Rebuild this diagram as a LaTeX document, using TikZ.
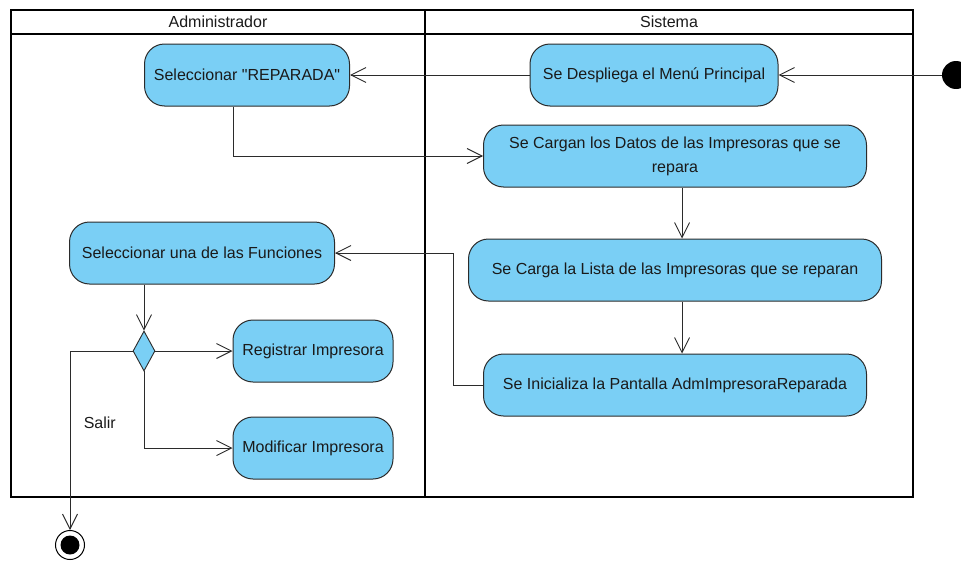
\documentclass[tikz,border=0pt]{standalone}
\usepackage{fontspec}
\setmainfont{Liberation Sans}
\usetikzlibrary{
  arrows.meta,
  shapes.geometric,
  positioning,
  calc
}
\definecolor{acFill}{HTML}{7ACFF5}
\definecolor{acLine}{HTML}{2B2B2B}
\definecolor{acText}{HTML}{1A1A1A}
\tikzset{
  acnode/.style={
    draw=acLine, fill=acFill, rounded corners=20pt, minimum height=62pt,
    font=\fontsize{16}{24}\selectfont, text=acText, align=center,
    line width=1pt, inner sep=2pt
  },
  decision/.style={draw=acLine, fill=acFill, diamond, minimum width=22pt,
    minimum height=40pt, inner sep=0pt, line width=0.9pt},
  startnode/.style={circle, fill=black, minimum size=28pt, inner sep=0pt},
  endnode/.style={circle, draw=black, fill=white, line width=1pt,
    minimum size=29pt, inner sep=0pt,
    path picture={\fill[black] (path picture bounding box.center) circle (9.5pt);}},
  lane/.style={draw=black, line width=2pt},
  lanehead/.style={font=\fontsize{16}{18}\selectfont, text=acText},
  flow/.style={-{Straight Barb[length=15pt, width=15pt]}, line width=0.9pt, acLine},
  tag/.style={font=\fontsize{16}{18}\selectfont, text=acText}
}
\begin{document}
\begin{tikzpicture}[x=1pt, y=-1pt]
  \useasboundingbox (0,0) rectangle (961,562);
  % swimlanes
  \draw[lane] (11,10) rectangle (913,497);
  \draw[lane] (11,34) -- (913,34);
  \draw[lane] (425,10) -- (425,497);
  \node[lanehead] (hadm) at (218,22) {Administrador};
  \node[lanehead] (hsis) at (669,22) {Sistema};

  % Sistema
  \node[startnode] (ini) at (956,75) {};
  \node[acnode, minimum width=248pt] (menu) at (654,75) {Se Despliega el Menú Principal};
  \node[acnode, minimum width=383pt] (datos) at (675,156) {Se Cargan los Datos de las Impresoras que se\\repara};
  \node[acnode, minimum width=413pt, below=51pt of datos] (lista) {Se Carga la Lista de las Impresoras que se reparan};
  \node[acnode, minimum width=383pt, below=52pt of lista] (inic) {Se Inicializa la Pantalla AdmImpresoraReparada};

  % Administrador
  \node[acnode, minimum width=205pt] (repa) at (247,75) {Seleccionar \textquotedbl REPARADA\textquotedbl};
  \node[acnode, minimum width=265pt] (func) at (202,253) {Seleccionar una de las Funciones};
  \node[decision] (dec) at (144,351) {};
  \node[acnode, minimum width=160pt] (reg) at (313,351) {Registrar Impresora};
  \node[acnode, minimum width=160pt] (mod) at (313,448) {Modificar Impresora};
  \node[endnode] (fin) at (70,545) {};

  % flows
  \draw[flow] (ini) -- (menu);
  \draw[flow] (menu) -- (repa);
  \draw[flow] ([xshift=-14pt]repa.south) |- (datos.west);
  \draw[flow] ([xshift=7pt]datos.south) -- ([xshift=7pt]lista.north);
  \draw[flow] ([xshift=7pt]lista.south) -- ([xshift=7pt]inic.north);
  \draw[flow] (inic.west) -- ++(-30,0) |- (func.east);
  \draw[flow] (func.south -| dec.north) -- (dec.north);
  \draw[flow] (dec.east) -- (reg.west);
  \draw[flow] (dec.south) |- (mod.west);
  \draw[flow] (dec.west) -| (fin.north) node[tag, pos=0.7, right=10pt] (salir) {Salir};
\end{tikzpicture}
\end{document}
